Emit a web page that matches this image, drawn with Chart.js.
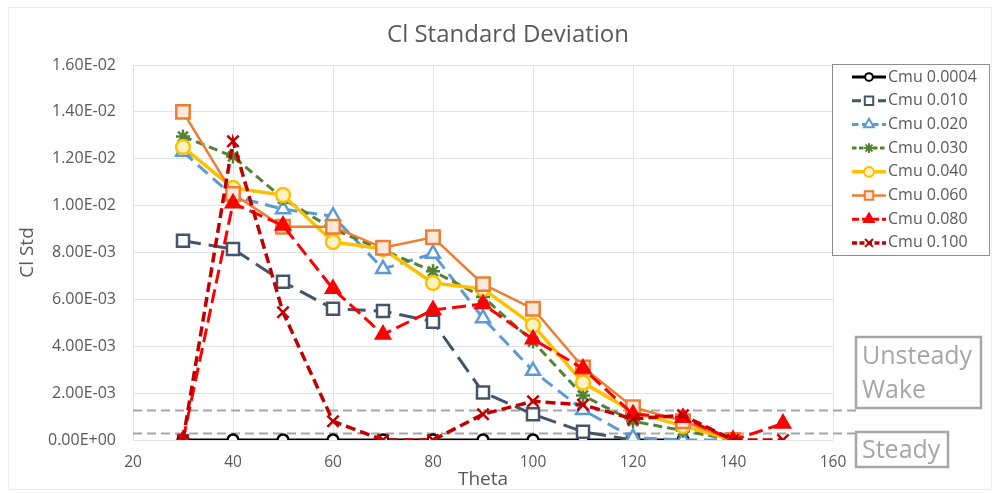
<!DOCTYPE html>
<html>
<head>
<meta charset="utf-8">
<script src="https://cdn.jsdelivr.net/npm/chart.js@4.4.1/dist/chart.umd.min.js"></script>
<style>
  html, body { margin: 0; padding: 0; background: #ffffff; }
  canvas { display: block; }
</style>
</head>
<body>
<canvas id="c" width="992" height="493"></canvas>
<script>
// Flap angle (deg) at which each Cl standard deviation was sampled
const theta = [30, 40, 50, 60, 70, 80, 90, 100, 110, 120, 130, 140, 150];

// Cl standard deviation per blowing coefficient (null = not measured)
const cmu0004 = [0, 0, 0, 0, 0, 0, 0, 0, 0, 0, 0, null, null];
const cmu010 = [0.0085, 0.00815, 0.00675, 0.0056, 0.0055, 0.00505, 0.00203, 0.0011, 0.00035, 0.0, null, null, null];
const cmu020 = [0.0123, 0.0104, 0.00985, 0.00955, 0.0073, 0.00795, 0.0052, 0.00295, 0.00128, 0.0001, 0.0, 0.0, null];
const cmu030 = [0.01295, 0.0121, 0.0103, 0.009, 0.0081, 0.0072, 0.0061, 0.0042, 0.0019, 0.0008, 0.0004, 0.0, null];
const cmu040 = [0.0125, 0.01075, 0.01045, 0.00845, 0.00815, 0.0067, 0.00645, 0.0049, 0.00245, 0.0012, 0.0006, 0.0, null];
const cmu060 = [0.014, 0.0105, 0.0091, 0.0091, 0.0082, 0.00865, 0.00665, 0.0056, 0.0031, 0.0014, 0.0008, 0.0, null];
const cmu080 = [0.0, 0.0101, 0.00915, 0.00645, 0.0045, 0.00555, 0.0058, 0.0043, 0.00305, 0.0011, 0.00095, 0.0, 0.0007];
const cmu100 = [0.0, 0.01275, 0.00545, 0.0008, 0.0, 0.0, 0.0011, 0.00165, 0.0015, 0.0009, 0.00105, 0.0, 0.0];

const seriesNames = ['Cmu 0.0004', 'Cmu 0.010', 'Cmu 0.020', 'Cmu 0.030', 'Cmu 0.040', 'Cmu 0.060', 'Cmu 0.080', 'Cmu 0.100'];

// Axis ranges and tick spacing
const xTicks = { min: 20, max: 160, step: 20 };
const yTicks = { min: 0, max: 0.016, step: 0.002 };

// Flow regime thresholds shown as dashed guides
const unsteadyLimit = 0.0013;
const steadyLimit = 0.0003;
const regimeLabels = { unsteady: ['Unsteady', 'Wake'], steady: ['Steady'] };

const FONT = "'Open Sans', 'Liberation Sans', sans-serif";
const TEXT = '#595959';

function toPoints(values) {
  return theta.map((t, i) => ({ x: t, y: values[i] }));
}

const styles = [
  { color: '#000000', dash: [],       width: 3,   point: 'circle',   r: 5.5, fill: '#ffffff' },
  { color: '#44546A', dash: [18, 8],  width: 3,   point: 'rect',     r: 8.5, fill: '#ffffff' },
  { color: '#5B9BD5', dash: [13, 7],  width: 3,   point: 'triangle', r: 8,   fill: '#ffffff' },
  { color: '#548235', dash: [9, 5],   width: 3,   point: 'star',     r: 7,   fill: '#548235' },
  { color: '#FFC000', dash: [],       width: 3.5, point: 'circle',   r: 7,   fill: '#fff2c2' },
  { color: '#ED7D31', dash: [],       width: 2.5, point: 'rect',     r: 9.5, fill: '#fde9dc' },
  { color: '#FF0000', dash: [14, 6],  width: 3,   point: 'triangle', r: 8,   fill: '#FF0000' },
  { color: '#C00000', dash: [10, 5],  width: 3.5, point: 'crossRot', r: 8,   fill: '#C00000' }
];

const allSeries = [cmu0004, cmu010, cmu020, cmu030, cmu040, cmu060, cmu080, cmu100];

const datasets = allSeries.map((vals, i) => {
  const s = styles[i];
  return {
    label: seriesNames[i],
    data: toPoints(vals),
    borderColor: s.color,
    backgroundColor: s.fill,
    borderWidth: s.width,
    borderDash: s.dash,
    pointStyle: s.point,
    pointRadius: s.r,
    pointBorderWidth: 2.5,
    pointBorderColor: s.color,
    pointBackgroundColor: s.fill,
    tension: 0,
    spanGaps: false,
    order: allSeries.length - i
  };
});

function sciLabel(v) {
  if (Math.abs(v) < 1e-12) return '0.00E+00';
  const parts = v.toExponential(2).split('e');
  const n = parseInt(parts[1], 10);
  return parts[0] + 'E' + (n < 0 ? '-' : '+') + String(Math.abs(n)).padStart(2, '0');
}

// Chart title, regime guides, regime boxes and series key
const decorations = {
  id: 'decorations',
  beforeDatasetsDraw(chart) {
    const ctx = chart.ctx;
    const y = chart.scales.y;
    const area = chart.chartArea;
    ctx.save();
    ctx.strokeStyle = '#A6A6A6';
    ctx.lineWidth = 2;
    ctx.setLineDash([9, 5]);
    [unsteadyLimit, steadyLimit].forEach(v => {
      const py = Math.round(y.getPixelForValue(v)) + 0.5;
      ctx.beginPath();
      ctx.moveTo(area.left, py);
      ctx.lineTo(856, py);
      ctx.stroke();
    });
    ctx.restore();
  },
  afterDraw(chart) {
    const ctx = chart.ctx;
    ctx.save();

    // title
    ctx.fillStyle = TEXT;
    ctx.font = '24px ' + FONT;
    ctx.textAlign = 'center';
    ctx.textBaseline = 'middle';
    ctx.fillText('Cl Standard Deviation', 508, 35);

    // regime boxes
    ctx.strokeStyle = '#A6A6A6';
    ctx.lineWidth = 2.5;
    ctx.setLineDash([]);
    ctx.strokeRect(856, 337, 125, 71);
    ctx.strokeRect(856, 432, 92, 35);
    ctx.fillStyle = '#A6A6A6';
    ctx.font = '25px ' + FONT;
    ctx.textAlign = 'left';
    ctx.fillText(regimeLabels.unsteady[0], 862, 357);
    ctx.fillText(regimeLabels.unsteady[1], 862, 391);
    ctx.fillText(regimeLabels.steady[0], 862, 451);

    // series key
    ctx.fillStyle = '#ffffff';
    ctx.fillRect(832, 64, 158, 191);
    ctx.strokeStyle = '#8C8C8C';
    ctx.lineWidth = 1;
    ctx.strokeRect(832.5, 64.5, 157, 191);
    chart.data.datasets.forEach((ds, i) => {
      const yy = 77 + i * 23.7;
      ctx.save();
      ctx.strokeStyle = ds.borderColor;
      ctx.lineWidth = ds.borderWidth;
      ctx.setLineDash(ds.borderDash.map(d => d * 0.5));
      ctx.beginPath();
      ctx.moveTo(852, yy);
      ctx.lineTo(886, yy);
      ctx.stroke();
      ctx.setLineDash([]);
      ctx.fillStyle = ds.pointBackgroundColor;
      ctx.strokeStyle = ds.pointBorderColor;
      ctx.lineWidth = 2;
      Chart.helpers.drawPoint(ctx, {
        pointStyle: ds.pointStyle,
        radius: Math.min(ds.pointRadius * 0.7, 6),
        rotation: 0,
        borderWidth: 2
      }, 869, yy);
      ctx.restore();
      ctx.fillStyle = TEXT;
      ctx.font = '16px ' + FONT;
      ctx.textAlign = 'left';
      ctx.textBaseline = 'middle';
      ctx.fillText(ds.label, 888, yy);
    });

    // outer frame
    ctx.strokeStyle = '#EDEDED';
    ctx.lineWidth = 1;
    ctx.strokeRect(8.5, 7.5, 983, 482);
    ctx.restore();
  }
};

new Chart(document.getElementById('c'), {
  type: 'line',
  data: { datasets },
  options: {
    responsive: false,
    animation: false,
    layout: { padding: { left: 0, right: 159, top: 65, bottom: 0 } },
    plugins: {
      legend: { display: false },
      title: { display: false },
      tooltip: { enabled: false }
    },
    scales: {
      x: {
        type: 'linear',
        min: xTicks.min,
        max: xTicks.max,
        afterFit(scale) { scale.height = 53; },
        ticks: {
          stepSize: xTicks.step,
          color: TEXT,
          font: { family: FONT, size: 15.5 },
          padding: 13,
          maxRotation: 0
        },
        grid: { color: '#E3E3E3', lineWidth: 1, drawTicks: false },
        border: { display: false },
        title: {
          display: true,
          text: 'Theta',
          color: TEXT,
          font: { family: FONT, size: 19 },
          padding: { top: 0, bottom: 2 }
        }
      },
      y: {
        type: 'linear',
        min: yTicks.min,
        max: yTicks.max,
        afterFit(scale) { scale.width = 133; },
        ticks: {
          stepSize: yTicks.step,
          color: TEXT,
          font: { family: FONT, size: 16 },
          padding: 17,
          callback: v => sciLabel(v)
        },
        grid: { color: '#E3E3E3', lineWidth: 1, drawTicks: false },
        border: { display: false },
        title: {
          display: true,
          text: 'Cl Std',
          color: TEXT,
          font: { family: FONT, size: 19 },
          padding: { top: 16, bottom: 0 }
        }
      }
    }
  },
  plugins: [decorations]
});
</script>
</body>
</html>
